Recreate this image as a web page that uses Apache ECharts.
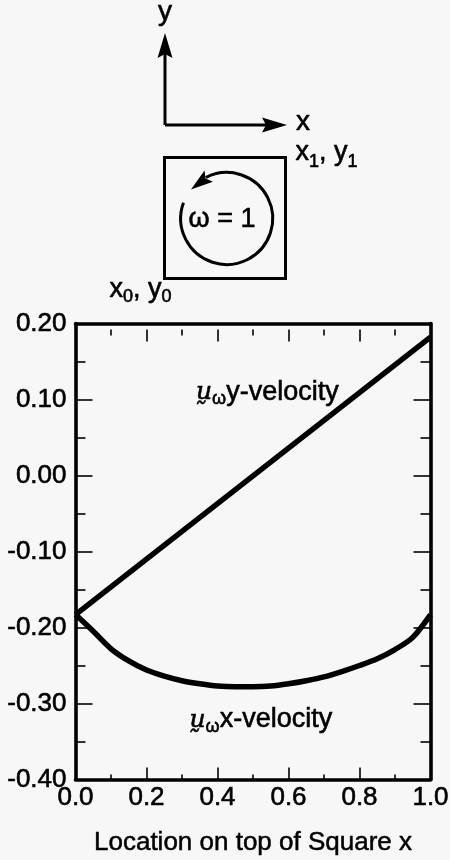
<!DOCTYPE html>
<html>
<head>
<meta charset="utf-8">
<script src="https://cdn.jsdelivr.net/npm/echarts@6/dist/echarts.min.js"></script>
<style>
  html, body { margin: 0; padding: 0; background: #f7f7f7; }
  #chart { width: 450px; height: 860px; }
</style>
</head>
<body>
<div id="chart"></div>
<script>
// Velocity induced along the top edge of a unit square by a vortex of strength 1.
const xLocations = [0, 0.05, 0.1, 0.15, 0.2, 0.25, 0.3, 0.35, 0.4, 0.45, 0.5,
                    0.55, 0.6, 0.65, 0.7, 0.75, 0.8, 0.85, 0.9, 0.95, 1.0];
const xVelocity  = [-0.183, -0.205, -0.228, -0.244, -0.256, -0.264, -0.270, -0.274, -0.277, -0.278, -0.278,
                    -0.277, -0.274, -0.270, -0.265, -0.258, -0.250, -0.241, -0.229, -0.213, -0.183];
const yVelocityX = [0, 1.0];
const yVelocity  = [-0.183, 0.182];

const xTicks = { min: 0, max: 1, step: 0.2 };
const yTicks = { min: -0.4, max: 0.2, step: 0.1 };

const INK = '#000';
const SANS = '"Liberation Sans", Arial, sans-serif';
const SERIF = '"DejaVu Serif", serif';

const measureCtx = document.createElement('canvas').getContext('2d');
function pieceFont(p) {
  return (p.style || 'normal') + ' normal ' + p.size + 'px ' + (p.family || SANS);
}
function widthOf(p) {
  measureCtx.font = pieceFont(p);
  return measureCtx.measureText(p.t).width;
}
// Lay out a run of text pieces (for sub-scripts) on a shared baseline.
function textRun(x, baseline, pieces, align) {
  const widths = pieces.map(widthOf);
  const total = widths.reduce((a, b) => a + b, 0);
  let cx = align === 'center' ? x - total / 2 : x;
  const out = [];
  pieces.forEach((p, i) => {
    out.push({
      type: 'text',
      x: cx,
      y: baseline + (p.dy || 0) - 0.35 * p.size,
      style: {
        text: p.t,
        fill: INK,
        font: pieceFont(p),
        align: 'left',
        verticalAlign: 'middle',
        stroke: INK,
        lineWidth: 0.6
      },
      silent: true
    });
    cx += widths[i];
  });
  return out;
}

// Rotation sketch: axes, square and circulation arrow
const cx0 = 226.7, cy0 = 218.5, rad = 46;
const deg = Math.PI / 180;
function onCircle(mathDeg) {
  return [cx0 + rad * Math.cos(mathDeg * deg), cy0 - rad * Math.sin(mathDeg * deg)];
}
const tip = onCircle(141), base = onCircle(113);
const dx = tip[0] - base[0], dy = tip[1] - base[1];
const len = Math.hypot(dx, dy);
const px = dy / len * 7, py = -dx / len * 7;
const notch = [base[0] + dx * 0.18, base[1] + dy * 0.18];

const sketch = [
  { type: 'line', shape: { x1: 165, y1: 125, x2: 165, y2: 52 }, style: { stroke: INK, lineWidth: 3 } },
  { type: 'polygon', shape: { points: [[165, 33], [157.5, 58], [165, 54], [172.5, 58]] }, style: { fill: INK } },
  { type: 'line', shape: { x1: 165, y1: 125, x2: 268, y2: 125 }, style: { stroke: INK, lineWidth: 3 } },
  { type: 'polygon', shape: { points: [[287, 125], [262, 117.5], [266, 125], [262, 132.5]] }, style: { fill: INK } },
  { type: 'rect', shape: { x: 164.5, y: 157.5, width: 121, height: 121 }, style: { fill: null, stroke: INK, lineWidth: 3 } },
  { type: 'arc', shape: { cx: cx0, cy: cy0, r: rad, startAngle: 243 * deg, endAngle: 200 * deg, clockwise: true },
    style: { fill: null, stroke: INK, lineWidth: 3 } },
  { type: 'polygon', shape: { points: [tip, [base[0] + px, base[1] + py], notch, [base[0] - px, base[1] - py]] }, style: { fill: INK } }
];

const labels = [].concat(
  textRun(165, 22, [{ t: 'y', size: 28 }], 'center'),
  textRun(296, 132, [{ t: 'x', size: 28 }]),
  textRun(295.5, 162, [
    { t: 'x', size: 27 }, { t: '1', size: 18, dy: 6.5 }, { t: ', ', size: 27 },
    { t: 'y', size: 27 }, { t: '1', size: 18, dy: 6.5 }
  ]),
  textRun(109.5, 298.5, [
    { t: 'x', size: 27 }, { t: '0', size: 18, dy: 5 }, { t: ', ', size: 27 },
    { t: 'y', size: 27 }, { t: '0', size: 18, dy: 5 }
  ]),
  textRun(222, 228.5, [{ t: '\u03C9 = 1', size: 27 }], 'center'),
  textRun(196, 401.5, [
    { t: '\u1E75', size: 25, family: SERIF, style: 'italic' },
    { t: '\u03C9', size: 18, dy: 4 },
    { t: 'y-velocity', size: 27 }
  ]),
  textRun(189.5, 729, [
    { t: '\u1E75', size: 25, family: SERIF, style: 'italic' },
    { t: '\u03C9', size: 18, dy: 4 },
    { t: 'x-velocity', size: 27 }
  ])
);

// Each axis gets its own style objects.
function frameLine() { return { show: true, onZero: false, lineStyle: { color: INK, width: 3.6 } }; }
function tickStyle(len) { return { show: true, inside: true, length: len, lineStyle: { color: INK, width: 1.6 } }; }
function minorStyle(len) { return { show: true, splitNumber: 2, length: len, lineStyle: { color: INK, width: 1.6 } }; }
function noSplit() { return { show: false }; }
function tickLabelStyle(extra) {
  return Object.assign({ show: true, color: INK, fontSize: 26, fontFamily: SANS,
                         textBorderColor: INK, textBorderWidth: 0.6 }, extra);
}

function fmtY(v) {
  if (Math.abs(v) < 1e-9) return '0.00';
  return v.toFixed(2);
}

const chart = echarts.init(document.getElementById('chart'), null, { renderer: 'canvas' });
chart.setOption({
  backgroundColor: '#f7f7f7',
  animation: false,
  grid: { left: 75.5, right: 19.5, top: 323.5, bottom: 80.5, containLabel: false, outerBoundsMode: 'none' },
  xAxis: [
    {
      type: 'value', position: 'bottom', min: xTicks.min, max: xTicks.max, interval: xTicks.step,
      axisLine: frameLine(),
      axisTick: tickStyle(12),
      minorTick: minorStyle(5),
      splitLine: noSplit(), minorSplitLine: noSplit(),
      axisLabel: tickLabelStyle({ margin: 5, formatter: v => v.toFixed(1) }),
      name: 'Location on top of Square x',
      nameLocation: 'middle', nameGap: 50,
      nameTextStyle: { color: INK, fontSize: 26, fontFamily: SANS, textBorderColor: INK, textBorderWidth: 0.5 }
    },
    {
      type: 'value', position: 'top', min: xTicks.min, max: xTicks.max, interval: xTicks.step,
      axisLine: frameLine(), axisTick: { show: false }, axisLabel: { show: false },
      splitLine: noSplit()
    },
    {
      type: 'value', position: 'top', offset: -6, min: xTicks.min, max: xTicks.max, interval: xTicks.step,
      axisLine: { show: false, onZero: false },
      axisTick: tickStyle(12),
      minorTick: minorStyle(6),
      axisLabel: { show: false }, splitLine: noSplit(), minorSplitLine: noSplit()
    }
  ],
  yAxis: [
    {
      type: 'value', position: 'left', min: yTicks.min, max: yTicks.max, interval: yTicks.step,
      axisLine: frameLine(),
      axisTick: tickStyle(17),
      minorTick: minorStyle(10),
      splitLine: noSplit(), minorSplitLine: noSplit(),
      axisLabel: tickLabelStyle({ margin: 9, formatter: fmtY })
    },
    {
      type: 'value', position: 'right', min: yTicks.min, max: yTicks.max, interval: yTicks.step,
      axisLine: frameLine(),
      axisTick: tickStyle(17),
      minorTick: minorStyle(10),
      splitLine: noSplit(), minorSplitLine: noSplit(),
      axisLabel: { show: false }
    }
  ],
  series: [
    {
      name: 'y-velocity', type: 'line', xAxisIndex: 0, yAxisIndex: 0,
      data: yVelocityX.map((x, i) => [x, yVelocity[i]]),
      showSymbol: false, lineStyle: { color: INK, width: 5.5 }, silent: true
    },
    {
      name: 'x-velocity', type: 'line', xAxisIndex: 0, yAxisIndex: 0,
      data: xLocations.map((x, i) => [x, xVelocity[i]]),
      smooth: 0.3, showSymbol: false, lineStyle: { color: INK, width: 5.5 }, silent: true
    }
  ],
  graphic: { elements: sketch.concat(labels) }
});
</script>
</body>
</html>
